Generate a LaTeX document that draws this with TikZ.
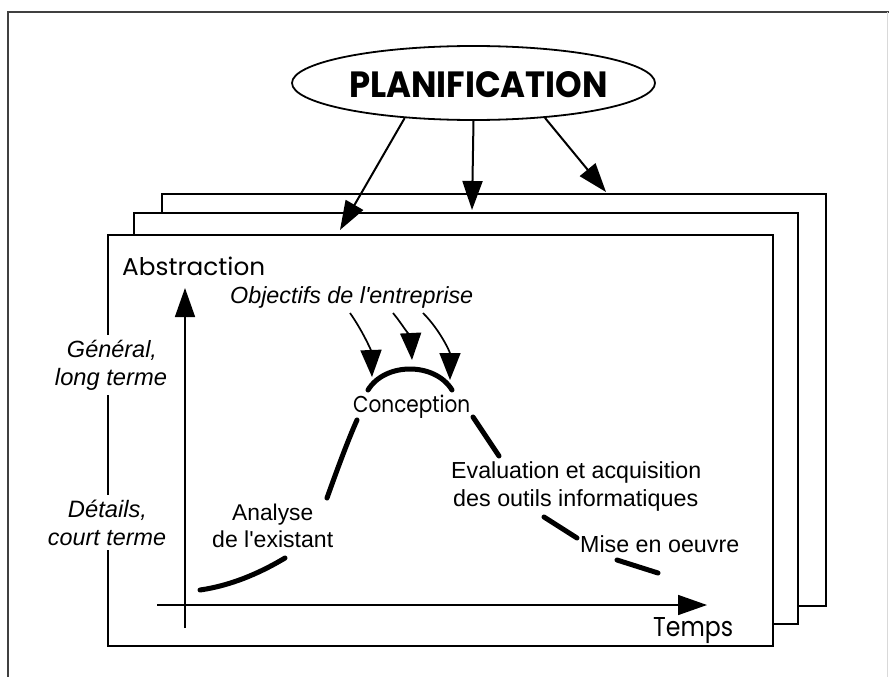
\documentclass[tikz,border=0pt]{standalone}
\usepackage{fontspec}
\usepackage{graphicx}
\setmainfont{Liberation Sans}
\newfontfamily\geo{Poppins}
\usetikzlibrary{arrows.meta,shapes.geometric}
\newcommand\apos{\textquotesingle}
\begin{document}
\begin{tikzpicture}[x=1pt,y=-1pt,
  pagebox/.style={draw=black,line width=1.8pt,fill=white},
  bigarrow/.style={line width=2pt,-{Triangle[length=29pt,width=20pt]}},
  smallarrow/.style={line width=1.7pt,-{Triangle[length=27pt,width=21pt]}},
  axisline/.style={line width=1.6pt,-{Triangle[length=29pt,width=20pt]}},
  curveseg/.style={line width=5pt,line cap=round},
  lbl/.style={inner sep=0pt,anchor=base west},
  edgelbl/.style={inner xsep=3pt,inner ysep=5pt,fill=white,anchor=base}
]
\useasboundingbox (0,0) rectangle (889,677);
\fill[white] (0,0) rectangle (889,677);
% outer frame
\draw[line width=1.2pt,black!75] (8,677) -- (8,12) -- (889,12);
\draw[line width=1pt,black!15] (887,12) -- (887,677);
% pages
\draw[pagebox] (162,194) rectangle (826,606);
\draw[pagebox] (134,213) rectangle (798,624);
\draw[pagebox] (108,235) rectangle (773,646);
% planification
\node[ellipse,draw,line width=1.8pt,minimum width=363pt,minimum height=74pt,inner sep=0pt] (plan) at (473.5,83) {};
\node[inner sep=0pt] (plantext) at (478.5,85) {\resizebox{259pt}{26pt}{\geo\bfseries PLANIFICATION}};
\coordinate (t1) at (340,230);
\coordinate (t2) at (472,210);
\coordinate (t3) at (606,192);
\draw[bigarrow] (plan.207) -- (t1);
\draw[bigarrow] (plan.south) -- (t2);
\draw[bigarrow] (plan.334) -- (t3);
% axes
\coordinate (yb) at (185,628);
\coordinate (yt) at (185,288);
\coordinate (xl) at (157,605);
\coordinate (xr) at (707,605);
\draw[axisline] (yb) -- (yt);
\draw[axisline] (xl) -- (xr);
% labels
\node[lbl] (abs) at (122,275) {\resizebox{143pt}{18.5pt}{\geo Abstraction}};
\node[lbl] (temps) at (653,636) {\resizebox{80pt}{19pt}{\geo Temps}};
\node[lbl] (obj) at (230,303) {\resizebox{243pt}{!}{\itshape Objectifs de l\apos entreprise}};
\node[lbl] (conc) at (353,412) {\resizebox{117pt}{17.5pt}{\geo Conception}};
\node[lbl] (ana1) at (232,520) {\resizebox{81pt}{!}{Analyse}};
\node[lbl] (ana2) at (212,547) {\resizebox{121pt}{!}{de l\apos existant}};
\node[lbl] (eva1) at (451,478) {\resizebox{250pt}{!}{Evaluation et acquisition}};
\node[lbl] (eva2) at (453,506) {\resizebox{245pt}{!}{des outils informatiques}};
\node[lbl] (mise) at (580,552) {\resizebox{159pt}{!}{Mise en oeuvre}};
\node[edgelbl] (gen1) at (112,357) {\resizebox{90pt}{!}{\itshape Général,}};
\node[edgelbl] (gen2) at (111,385) {\resizebox{112pt}{!}{\itshape long terme}};
\node[edgelbl] (det1) at (107.5,517) {\resizebox{79pt}{!}{\itshape Détails,}};
\node[edgelbl] (det2) at (107,545) {\resizebox{118pt}{!}{\itshape court terme}};
% objectifs arrows
\coordinate (o1) at (350,313);
\coordinate (o2) at (393,313);
\coordinate (o3) at (423,313);
\coordinate (c1) at (372,377);
\coordinate (c2) at (412,360);
\coordinate (c3) at (450,380);
\draw[smallarrow] (o1) .. controls (362,330) and (371,350) .. (c1);
\draw[smallarrow] (o2) .. controls (403,325) and (411,340) .. (c2);
\draw[smallarrow] (o3) .. controls (440,330) and (450,352) .. (c3);
% curve
\draw[curveseg] (200,590) .. controls (235,585) and (265,570) .. (285,558);
\draw[curveseg] (327,498) .. controls (337,470) and (348,440) .. (357,420);
\draw[curveseg] (368,390) .. controls (385,362) and (435,362) .. (452,390);
\draw[curveseg] (473,417) -- (499,456);
\draw[curveseg] (544,517) -- (577,538);
\draw[curveseg] (617,560) -- (658,573);
\end{tikzpicture}
\end{document}
